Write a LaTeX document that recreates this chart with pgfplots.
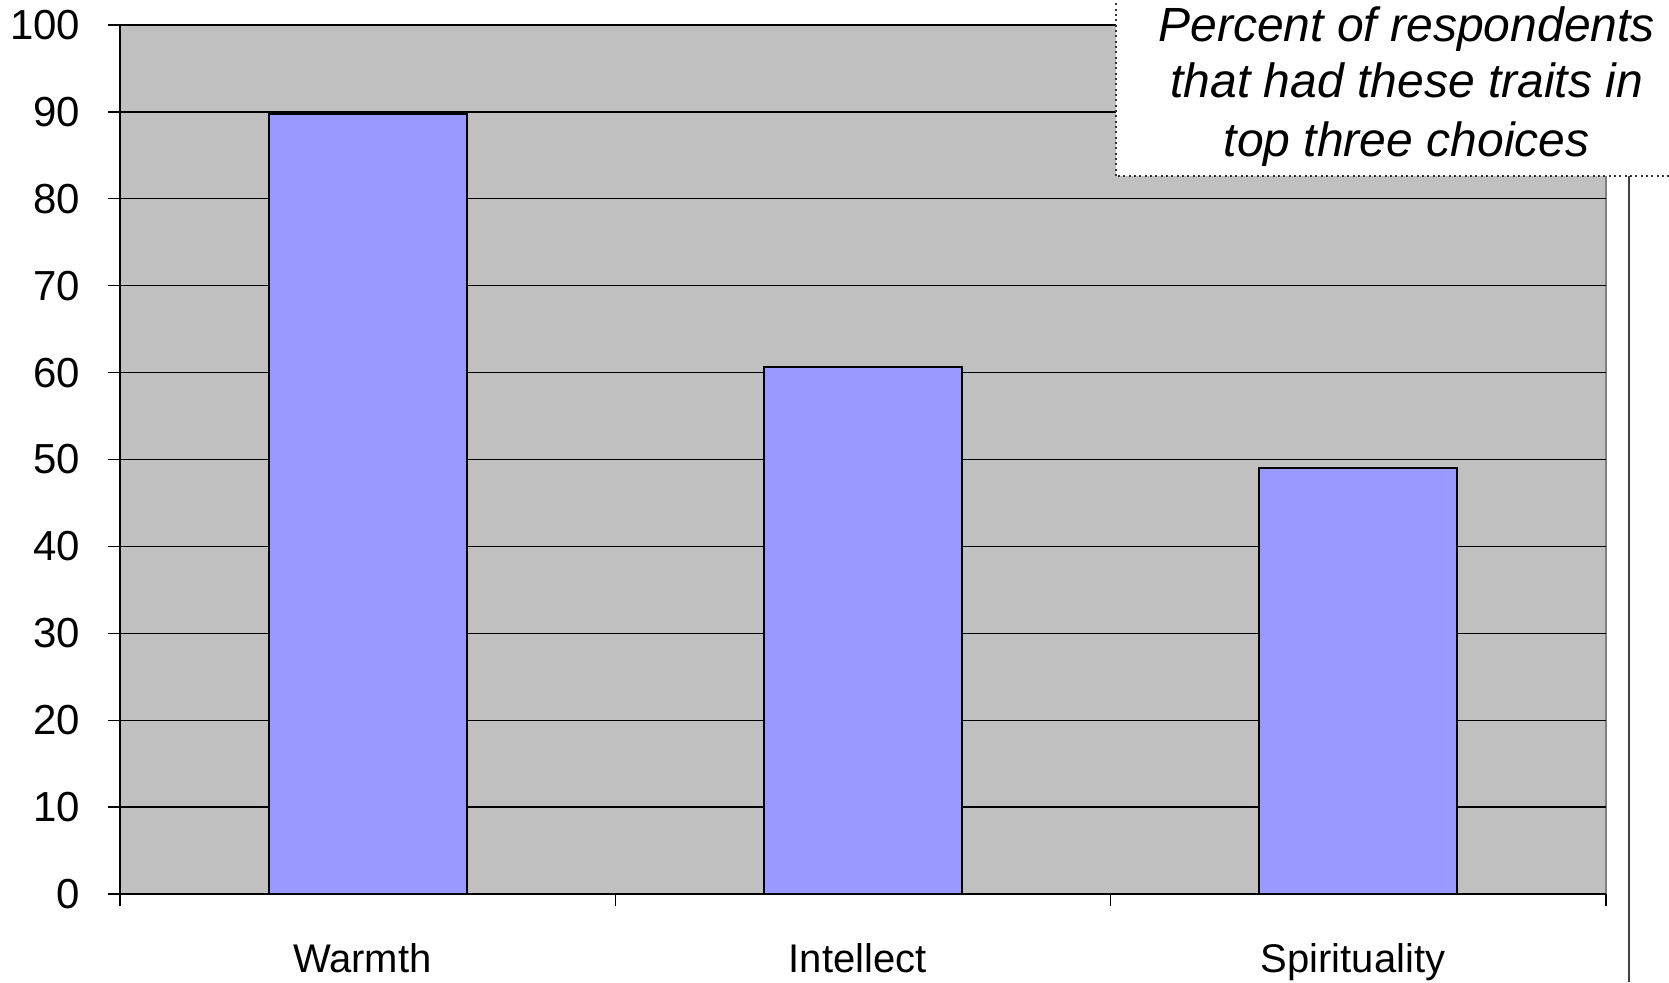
\documentclass[border=0pt]{standalone}
\usepackage{pgfplots}
\pgfplotsset{compat=1.18}
\usepackage{fontspec}
\setmainfont{Liberation Sans}
\definecolor{plotbg}{HTML}{C0C0C0}
\definecolor{barfill}{HTML}{9999FF}
\begin{document}
\begin{tikzpicture}
\path[use as bounding box] (0,0) rectangle (500.7pt,294.6pt);
\begin{axis}[
  at={(36pt,26.4pt)}, anchor=south west,
  width=445.8pt, height=260.7pt, scale only axis,
  xmin=-0.5, xmax=2.5, ymin=0, ymax=100,
  axis x line*=bottom, axis y line*=left,
  axis line style={-, black, line width=0.5pt},
  axis background/.style={fill=plotbg, draw=gray, line width=0.5pt},
  ytick={0,10,...,100},
  ymajorgrids, grid style={black, line width=0.4pt},
  xtick={-0.5,0.5,1.5,2.5}, xticklabels={},
  extra x ticks={0,1,2},
  extra x tick labels={Warmth,Intellect,Spirituality},
  extra x tick style={major tick length=0pt, grid=none,
    xticklabel style={yshift=-11.4pt, xshift=-1.6pt}},
  tick align=outside, major tick length=3.6pt,
  tick style={black, line width=0.4pt},
  /pgf/number format/assume math mode=true,
  tick label style={font=\fontsize{12}{14}\selectfont, black},
  yticklabel style={font=\fontsize{12.6}{14}\selectfont, xshift=-4.8pt},
  bar width=0.4, ybar,
]
\addplot[ybar, fill=barfill, draw=black, line width=0.6pt] coordinates {(0,89.8) (1,60.7) (2,49.0)};
\end{axis}
\draw[fill=white, draw=black!80, densely dotted, line width=0.6pt] (334.8pt,241.8pt) rectangle (520pt,310pt);
\draw[black!75, line width=0.6pt] (488.7pt,0pt) -- (488.7pt,241.8pt);
\node[anchor=base, font=\itshape\fontsize{14.4}{16}\selectfont, inner sep=0] at (422pt,282.2pt) {Percent of respondents};
\node[anchor=base, font=\itshape\fontsize{14.4}{16}\selectfont, inner sep=0] at (422pt,265.3pt) {that had these traits in};
\node[anchor=base, font=\itshape\fontsize{14.4}{16}\selectfont, inner sep=0] at (422pt,247.7pt) {top three choices};
\end{tikzpicture}
\end{document}
